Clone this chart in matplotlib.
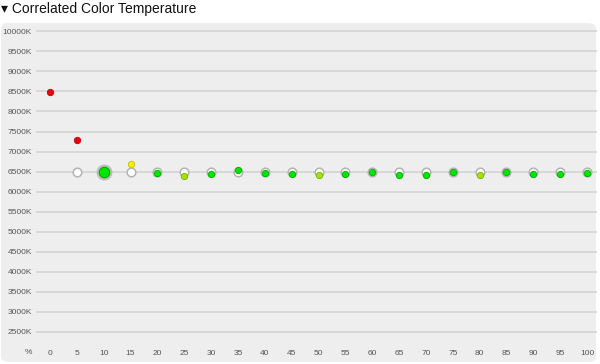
import matplotlib
matplotlib.use("Agg")
import matplotlib.pyplot as plt
from matplotlib.patches import FancyBboxPatch

plt.rcParams['font.family'] = ['Liberation Sans', 'DejaVu Sans']

# Data
levels = [0, 5, 10, 15, 20, 25, 30, 35, 40, 45, 50, 55, 60, 65, 70, 75, 80, 85, 90, 95, 100]
cct = [8480, 7292, 6500, 6683, 6467, 6392, 6450, 6542, 6467, 6441, 6408,
       6450, 6492, 6425, 6425, 6500, 6425, 6492, 6441, 6441, 6458]
target_levels = [5, 15, 20, 25, 30, 35, 40, 45, 50, 55, 60, 65, 70, 75, 80, 85, 90, 95, 100]
target_cct = [6500] * len(target_levels)
point_colors = ['red', 'red', 'green', 'yellow', 'green', 'lime', 'green', 'green', 'green',
                'green', 'lime', 'green', 'green', 'green', 'green', 'green', 'lime',
                'green', 'green', 'green', 'green']
selected_level = 10
yticks = list(range(2500, 10001, 500))
ytick_labels = [f"{v}K" for v in yticks]
xticks = levels
title = "\u25BE Correlated Color Temperature"

fill = {'red': '#e8000a', 'green': '#00e600', 'yellow': '#f2f200', 'lime': '#9ee600'}
edge = {'red': '#c00008', 'green': '#00a800', 'yellow': '#c0c000', 'lime': '#78b000'}

W, H = 600, 364
fig = plt.figure(figsize=(W / 100, H / 100), dpi=100)
fig.patch.set_facecolor('white')

# panel background
panel = FancyBboxPatch((1 / W, (H - 362) / H), 595 / W, 339 / H,
                       boxstyle="round,pad=0,rounding_size=0.014",
                       transform=fig.transFigure, facecolor='#eeeeee',
                       edgecolor='none', zorder=-10)
fig.patches.append(panel)

fig.text(1 / W, 1 - 9 / H, title, fontsize=10, color='#111111', va='center', ha='left')

left_px, right_px, top_px, bot_px = 36, 597, 24, 344
ax = fig.add_axes([left_px / W, (H - bot_px) / H, (right_px - left_px) / W, (bot_px - top_px) / H])
ax.set_facecolor('none')
for s in ax.spines.values():
    s.set_visible(False)

# pixel mapping
x0px, xscale = 50, 5.37
y2500px, yscale = 332, 0.0401
ax.set_xlim((left_px - x0px) / xscale, (right_px - x0px) / xscale)
ax.set_ylim(2500 - (bot_px - y2500px) / yscale, 2500 + (y2500px - top_px) / yscale)

ax.set_yticks(yticks)
ax.set_yticklabels(ytick_labels)
ax.set_xticks(xticks)
ax.set_xticklabels([str(v) for v in xticks])
ax.tick_params(axis='both', length=0, labelsize=6, labelcolor='#555555')
ax.tick_params(axis='y', pad=3)
ax.tick_params(axis='x', pad=4.2)
ax.yaxis.grid(True, color='#d4d4d4', linewidth=1.2)
ax.set_axisbelow(True)
fig.text(28 / W, 1 - 352 / H, "%", fontsize=6, color='#555555', ha='center', va='center')

# targets
ax.plot(target_levels, target_cct, linestyle='none', marker='o', markersize=6.2,
        markerfacecolor='white', markeredgecolor='#b4b4b4', markeredgewidth=1.1, zorder=3)

# measured points
for lv, v, c in zip(levels, cct, point_colors):
    if lv == selected_level:
        ax.plot([lv], [v], marker='o', markersize=11.5, markerfacecolor='#b8b8b8',
                markeredgecolor='none', alpha=0.9, zorder=4, linestyle='none')
        ax.plot([lv], [v], marker='o', markersize=7.5, markerfacecolor=fill[c],
                markeredgecolor=edge[c], markeredgewidth=0.8, zorder=5, linestyle='none')
    else:
        ax.plot([lv], [v], marker='o', markersize=4.6, markerfacecolor=fill[c],
                markeredgecolor=edge[c], markeredgewidth=0.6, zorder=5, linestyle='none')

fig.savefig("out.png", dpi=100, facecolor='white')
